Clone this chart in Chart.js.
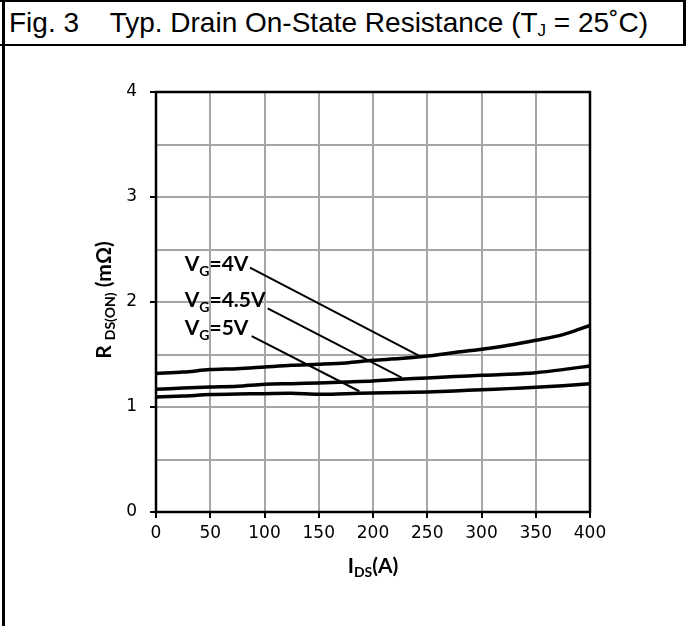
<!DOCTYPE html>
<html>
<head>
<meta charset="utf-8">
<script src="https://cdn.jsdelivr.net/npm/chart.js@4/dist/chart.umd.min.js"></script>
<style>
  html, body { margin: 0; padding: 0; background: #fff; }
  #wrap { position: relative; width: 686px; height: 626px; overflow: hidden; }
  .ln { position: absolute; background: #000; }
  #title {
    position: absolute; left: 9px; top: 7px; line-height: 32px;
    font-family: "Liberation Sans", Arial, sans-serif; font-size: 28px;
    white-space: pre; color: #000;
  }
  #title sub { font-size: 17px; vertical-align: -4px; line-height: 0; }
  canvas { position: absolute; left: 0; top: 0; }
</style>
</head>
<body>
<div id="wrap">
  <div class="ln" style="left:0;top:0;width:686px;height:2px"></div>
  <div class="ln" style="left:2px;top:0;width:2.5px;height:626px"></div>
  <div class="ln" style="left:683px;top:0;width:2.5px;height:46px"></div>
  <div class="ln" style="left:0;top:44px;width:686px;height:2px"></div>
  <div id="title">Fig. 3    Typ. Drain On-State Resistance (T<sub>J</sub> = 25˚C)</div>
  <canvas id="graph" width="686" height="626"></canvas>
</div>
<script>
// drain current steps (A)
const idsA = [0, 25, 50, 75, 100, 125, 150, 175, 200, 225, 250, 275, 300, 325, 350, 375, 400];

// R_DS(on) in mOhm
const rdsVg4 = [1.32, 1.333, 1.356, 1.365, 1.381, 1.397, 1.407, 1.42, 1.445, 1.461, 1.486, 1.518, 1.55, 1.588, 1.635, 1.689, 1.778];
const rdsVg45 = [1.168, 1.181, 1.19, 1.197, 1.216, 1.222, 1.229, 1.238, 1.248, 1.264, 1.277, 1.29, 1.302, 1.311, 1.327, 1.356, 1.391];
const rdsVg5 = [1.095, 1.105, 1.118, 1.124, 1.127, 1.13, 1.121, 1.127, 1.133, 1.137, 1.143, 1.152, 1.165, 1.175, 1.187, 1.203, 1.222];

// tick labels
const xTicks = [0, 50, 100, 150, 200, 250, 300, 350, 400];
const yTicks = [0, 1, 2, 3, 4];

// callouts: gate voltage, text anchor (A, mOhm), leader line start and end (A, mOhm)
const gateLabels = ['4V', '4.5V', '5V'];
const calloutText = [[27.4, 2.296], [27.4, 1.952], [27.4, 1.69]];
const leaderFrom = [[86.6, 2.328], [102.9, 1.94], [88.2, 1.676]];
const leaderTo = [[242.7, 1.486], [226.4, 1.28], [187.4, 1.15]];

const curveSets = [rdsVg4, rdsVg45, rdsVg5].map(function (ys) {
  return {
    data: idsA.map(function (x, i) { return { x: x, y: ys[i] }; }),
    borderColor: '#000', borderWidth: 3.5, pointRadius: 0, tension: 0.3, showLine: true
  };
});
const leaderSets = leaderFrom.map(function (p, i) {
  return {
    data: [{ x: p[0], y: p[1] }, { x: leaderTo[i][0], y: leaderTo[i][1] }],
    borderColor: '#000', borderWidth: 2, pointRadius: 0, tension: 0, showLine: true
  };
});

// draws runs of [text, isSub] starting at x, baseline y
function drawRuns(c, runs, x, y, size, subSize, subDrop) {
  runs.forEach(function (r) {
    c.font = 'bold ' + (r[1] ? subSize : size) + 'px Lato, sans-serif';
    c.fillText(r[0], x, y + (r[1] ? subDrop : 0));
    x += c.measureText(r[0]).width;
  });
  return x;
}
function runsWidth(c, runs, size, subSize) {
  let w = 0;
  runs.forEach(function (r) {
    c.font = 'bold ' + (r[1] ? subSize : size) + 'px Lato, sans-serif';
    w += c.measureText(r[0]).width;
  });
  return w;
}

const decor = {
  id: 'decor',
  afterDraw: function (chart) {
    const c = chart.ctx;
    const a = chart.chartArea;
    const sx = chart.scales.x, sy = chart.scales.y;
    c.save();
    // plot frame
    c.strokeStyle = '#000';
    c.lineWidth = 2.5;
    c.strokeRect(a.left, a.top, a.right - a.left, a.bottom - a.top);

    c.fillStyle = '#000';
    c.textAlign = 'left';
    c.textBaseline = 'alphabetic';
    // callout labels
    gateLabels.forEach(function (g, i) {
      const px = sx.getPixelForValue(calloutText[i][0]);
      const py = sy.getPixelForValue(calloutText[i][1]);
      drawRuns(c, [['V', false], ['G', true], ['=' + g, false]], px - 1, py, 21, 14, 5);
    });

    // x axis title
    const xr = [['I', false], ['DS', true], ['(A)', false]];
    let w = runsWidth(c, xr, 21, 14);
    drawRuns(c, xr, (a.left + a.right) / 2 - w / 2, 573, 21, 14, 4);

    // y axis title, rotated
    const yr = [['R ', false], ['DS(ON)', true], [' (m\u03A9)', false]];
    w = runsWidth(c, yr, 21, 14);
    c.translate(111, 300);
    c.rotate(-Math.PI / 2);
    drawRuns(c, yr, -w / 2, 0, 21, 14, 4);
    c.restore();
  }
};

const tickFont = { family: '"DejaVu Sans", sans-serif', size: 17 };

new Chart(document.getElementById('graph').getContext('2d'), {
  type: 'scatter',
  data: { datasets: curveSets.concat(leaderSets) },
  options: {
    responsive: false,
    animation: false,
    events: [],
    layout: { padding: { left: 0, top: 92, right: 96, bottom: 0 } },
    plugins: { legend: { display: false }, tooltip: { enabled: false } },
    scales: {
      x: {
        type: 'linear', min: 0, max: 400,
        afterFit: function (s) { s.height = 114; },
        afterBuildTicks: function (s) { s.ticks = xTicks.map(function (v) { return { value: v }; }); },
        ticks: { color: '#000', font: tickFont, padding: 5, maxRotation: 0 },
        grid: { color: '#a6a6a6', lineWidth: 2, tickLength: 6, tickColor: '#000', tickWidth: 2 },
        border: { display: false }
      },
      y: {
        type: 'linear', min: 0, max: 4,
        afterFit: function (s) { s.width = 156; },
        ticks: {
          stepSize: 0.5, color: '#000', font: tickFont, padding: 13,
          callback: function (v) { return yTicks.indexOf(v) >= 0 ? String(v) : ''; }
        },
        grid: {
          color: '#a6a6a6', lineWidth: 2, tickLength: 6, tickWidth: 2,
          tickColor: function (ctx) { return ctx.tick && yTicks.indexOf(ctx.tick.value) >= 0 ? '#000' : 'rgba(0,0,0,0)'; }
        },
        border: { display: false }
      }
    }
  },
  plugins: [decor]
});
</script>
</body>
</html>
